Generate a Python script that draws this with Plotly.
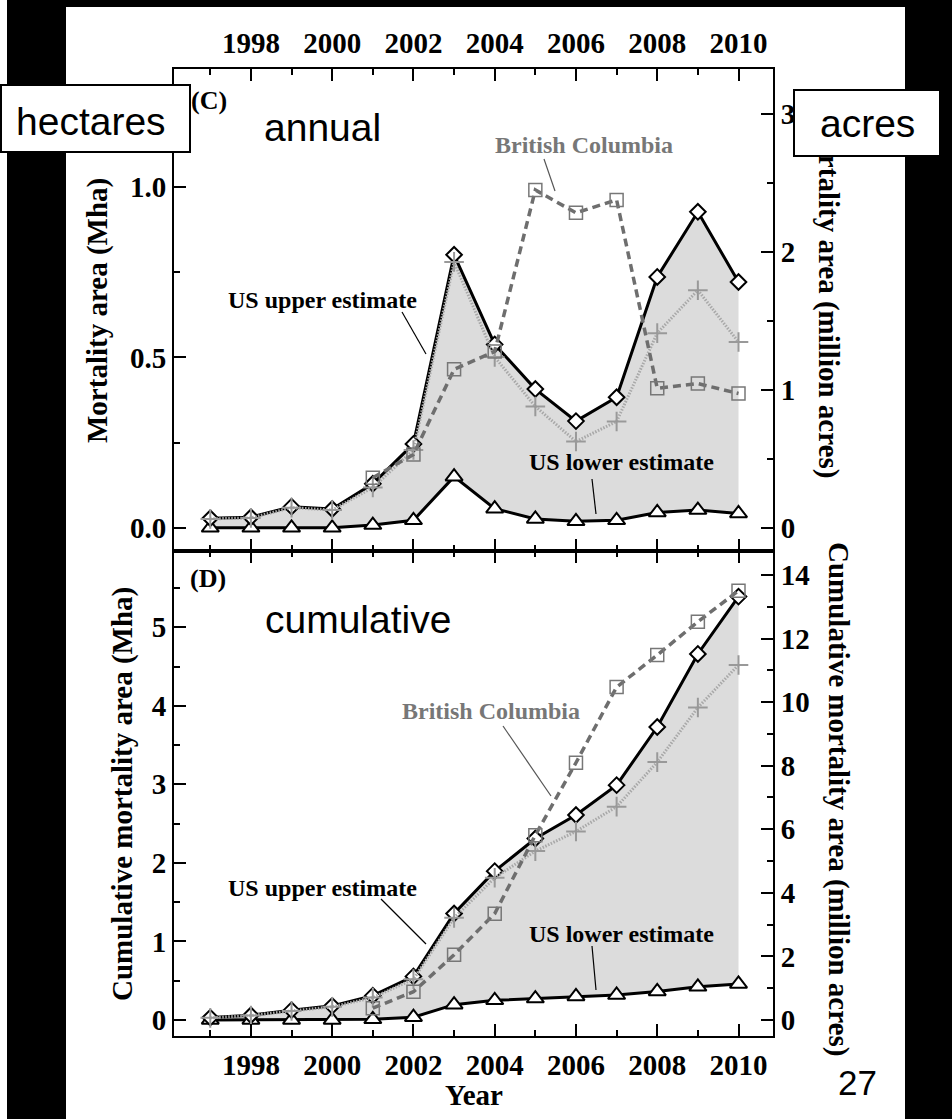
import plotly.graph_objects as go

# ---------------- data (million hectares) ----------------
years = [1997, 1998, 1999, 2000, 2001, 2002, 2003, 2004, 2005, 2006, 2007, 2008, 2009, 2010]
bc_years = [2001, 2002, 2003, 2004, 2005, 2006, 2007, 2008, 2009, 2010]

# annual mortality area
us_upper_annual = [0.028, 0.031, 0.062, 0.055, 0.129, 0.246, 0.801, 0.538, 0.407, 0.313, 0.383, 0.736, 0.927, 0.721]
us_mid_annual = [0.026, 0.029, 0.059, 0.052, 0.118, 0.228, 0.780, 0.501, 0.356, 0.253, 0.312, 0.571, 0.697, 0.545]
us_lower_annual = [0.0, 0.0, 0.0, 0.0, 0.008, 0.022, 0.150, 0.056, 0.026, 0.019, 0.022, 0.045, 0.052, 0.042]
bc_annual = [0.147, 0.215, 0.465, 0.517, 0.991, 0.924, 0.962, 0.409, 0.423, 0.394]

# cumulative mortality area
us_upper_cum = [0.030, 0.060, 0.125, 0.180, 0.310, 0.555, 1.355, 1.895, 2.310, 2.610, 2.990, 3.730, 4.660, 5.390]
us_mid_cum = [0.027, 0.056, 0.115, 0.167, 0.285, 0.520, 1.300, 1.810, 2.150, 2.400, 2.716, 3.283, 3.978, 4.520]
us_lower_cum = [0.0, 0.0, 0.0, 0.0, 0.008, 0.035, 0.195, 0.250, 0.272, 0.300, 0.318, 0.363, 0.422, 0.459]
bc_cum = [0.150, 0.360, 0.830, 1.354, 2.353, 3.275, 4.238, 4.646, 5.070, 5.465]

ACRES_PER_HA = 2.471

# ---------------- page geometry (pixels) ----------------
W, H = 952, 1119
L, R, T, B = 174, 773, 69, 1036
MID = 551.3

XR = [1996.107, 2010.849]
YC = [-0.069, 1.346]     # annual panel, Mha
YD = [-0.204, 5.967]     # cumulative panel, Mha

SERIF = "Liberation Serif"
SANS = "Liberation Sans"


def px(x):
    return (x - L) / (R - L)


def py(y):
    return (B - y) / (B - T)


split = py(MID)

fig = go.Figure()


def add_panel(xa, ya, upper, mid, lower, bc):
    # shaded band between the lower and upper US estimates
    fig.add_trace(go.Scatter(x=years, y=lower, mode="lines", line=dict(width=0, color="#dcdcdc"),
                             xaxis=xa, yaxis=ya, hoverinfo="skip", showlegend=False))
    fig.add_trace(go.Scatter(x=years, y=upper, mode="lines", line=dict(width=0, color="#dcdcdc"),
                             fill="tonexty", fillcolor="#dcdcdc",
                             xaxis=xa, yaxis=ya, hoverinfo="skip", showlegend=False))
    # US lower estimate
    fig.add_trace(go.Scatter(x=years, y=lower, mode="lines+markers",
                             line=dict(color="black", width=3),
                             marker=dict(symbol="triangle-up", size=15, color="white",
                                         line=dict(color="black", width=2)),
                             xaxis=xa, yaxis=ya, showlegend=False))
    # US upper estimate
    fig.add_trace(go.Scatter(x=years, y=upper, mode="lines+markers",
                             line=dict(color="black", width=3),
                             marker=dict(symbol="diamond", size=12, color="white",
                                         line=dict(color="black", width=2)),
                             xaxis=xa, yaxis=ya, showlegend=False))
    # intermediate US estimate
    fig.add_trace(go.Scatter(x=years, y=mid, mode="lines+markers",
                             line=dict(color="#a8a8a8", width=3, dash="1.5px,1.5px"),
                             marker=dict(symbol="cross-thin-open", size=14, color="#999999",
                                         line=dict(color="#999999", width=2)),
                             xaxis=xa, yaxis=ya, showlegend=False))
    # British Columbia
    fig.add_trace(go.Scatter(x=bc_years, y=bc, mode="lines+markers",
                             line=dict(color="#6e6e6e", width=3.5, dash="8px,5px"),
                             marker=dict(symbol="square-open", size=13, color="#777777",
                                         line=dict(color="#777777", width=1.5)),
                             xaxis=xa, yaxis=ya, showlegend=False))


add_panel("x2", "y3", us_upper_annual, us_mid_annual, us_lower_annual, bc_annual)
add_panel("x", "y", us_upper_cum, us_mid_cum, us_lower_cum, bc_cum)

# keep the acre axes alive
fig.add_trace(go.Scatter(x=[], y=[], xaxis="x", yaxis="y2", showlegend=False, hoverinfo="skip"))
fig.add_trace(go.Scatter(x=[], y=[], xaxis="x2", yaxis="y4", showlegend=False, hoverinfo="skip"))

tickfont = dict(family=SERIF, size=29, color="black", weight="bold")
common = dict(showgrid=False, zeroline=False, showline=True, linecolor="black", linewidth=2,
              ticks="inside", ticklen=12, tickwidth=2, tickcolor="black", tickfont=tickfont)
minor_common = dict(ticks="inside", ticklen=6, tickwidth=2, tickcolor="black")

fig.update_layout(
    width=W, height=H,
    margin=dict(l=L, r=W - R, t=T, b=H - B, pad=0),
    paper_bgcolor="white", plot_bgcolor="white",
    showlegend=False,
    xaxis=dict(range=XR, anchor="y", side="bottom", mirror="ticks", tickmode="linear",
               tick0=1998, dtick=2, ticklabelstandoff=2,
               minor=dict(tick0=1997, dtick=1, **minor_common), **common),
    xaxis2=dict(range=XR, anchor="y3", side="top", mirror="ticks", tickmode="linear",
                tick0=1998, dtick=2, ticklabelstandoff=2,
                minor=dict(tick0=1997, dtick=1, **minor_common), **common),
    yaxis=dict(domain=[0, split], range=YD, anchor="x", tickmode="linear", tick0=0, dtick=1,
               minor=dict(tick0=0, dtick=0.5, **minor_common), **common),
    yaxis2=dict(range=[YD[0] * ACRES_PER_HA, YD[1] * ACRES_PER_HA], overlaying="y", side="right",
                anchor="x", tickmode="linear", tick0=0, dtick=2,
                minor=dict(tick0=0, dtick=1, **minor_common), **common),
    yaxis3=dict(domain=[split, 1], range=YC, anchor="x2", tickmode="linear", tick0=0, dtick=0.5,
                tickformat=".1f",
                minor=dict(tick0=0, dtick=0.25, **minor_common), **common),
    yaxis4=dict(range=[YC[0] * ACRES_PER_HA, YC[1] * ACRES_PER_HA], overlaying="y3", side="right",
                anchor="x2", tickmode="linear", tick0=0, dtick=1,
                minor=dict(tick0=0, dtick=0.5, **minor_common), **common),
)

shapes = []


def rect(x0, y0, x1, y1, fill, layer="below"):
    shapes.append(dict(type="rect", xref="paper", yref="paper",
                       x0=px(x0), x1=px(x1), y0=py(y1), y1=py(y0),
                       fillcolor=fill, line=dict(width=0), layer=layer))


def seg(x0, y0, x1, y1, color="black", w=1.2):
    shapes.append(dict(type="line", xref="paper", yref="paper",
                       x0=px(x0), x1=px(x1), y0=py(y0), y1=py(y1),
                       line=dict(color=color, width=w), layer="above"))


# dark page border
rect(7, 0, W, 7, "black")
rect(7, 0, 66, H, "black")
rect(905, 0, W, H, "black")

# leader lines for the series labels
seg(402, 312, 426, 354)
seg(592, 479, 596, 514)
seg(544, 159, 555, 191, color="#555555")
seg(381, 899, 426, 944)
seg(503, 726, 551, 796, color="#555555")
seg(592, 946, 596, 990)

fig.update_layout(shapes=shapes)

ann = []


def text(x, y, s, size, family=SERIF, bold=True, color="black", angle=0):
    ann.append(dict(x=px(x), y=py(y), xref="paper", yref="paper", text=s, showarrow=False,
                    xanchor="center", yanchor="middle", textangle=angle,
                    font=dict(family=family, size=size, color=color,
                              weight="bold" if bold else "normal")))


def box(x0, y0, x1, y1, bw=2):
    # white framed box drawn over the axes and titles
    ann.append(dict(x=px((x0 + x1) / 2), y=py((y0 + y1) / 2), xref="paper", yref="paper",
                    text=" ", showarrow=False, xanchor="center", yanchor="middle",
                    width=x1 - x0 - 2 * bw, height=y1 - y0 - 2 * bw,
                    bgcolor="white", bordercolor="black", borderwidth=bw, borderpad=0,
                    font=dict(size=10)))


text(322.5, 300, "US upper estimate", 24)
text(621, 462, "US lower estimate", 24)
text(584, 145, "British Columbia", 24, color="#777777")
text(322.5, 888, "US upper estimate", 24)
text(621, 934, "US lower estimate", 24)
text(490.5, 711, "British Columbia", 24, color="#777777")

text(97, 310, "Mortality area (Mha)", 29, angle=-90)
text(122, 794, "Cumulative mortality area (Mha)", 29, angle=-90)
text(829, 295, "Mortality area (million acres)", 29, angle=90)
text(839, 799, "Cumulative mortality area (million acres)", 29, angle=90)
text(474, 1095, "Year", 29)
text(857, 1082, "27", 35, family=SANS, bold=False)

text(209, 100, "(C)", 26)
text(208, 578, "(D)", 26)
text(322.5, 128, "annual", 39, family=SANS, bold=False)
text(358, 619, "cumulative", 39, family=SANS, bold=False)

# unit boxes sit on top of the frame and the right-hand title
box(0, 84, 191, 153)
box(793, 89, 941, 157)
text(90.5, 122, "hectares", 39, family=SANS, bold=False)
text(867, 124, "acres", 39, family=SANS, bold=False)

fig.update_layout(annotations=ann)

fig.write_html("out.html")
